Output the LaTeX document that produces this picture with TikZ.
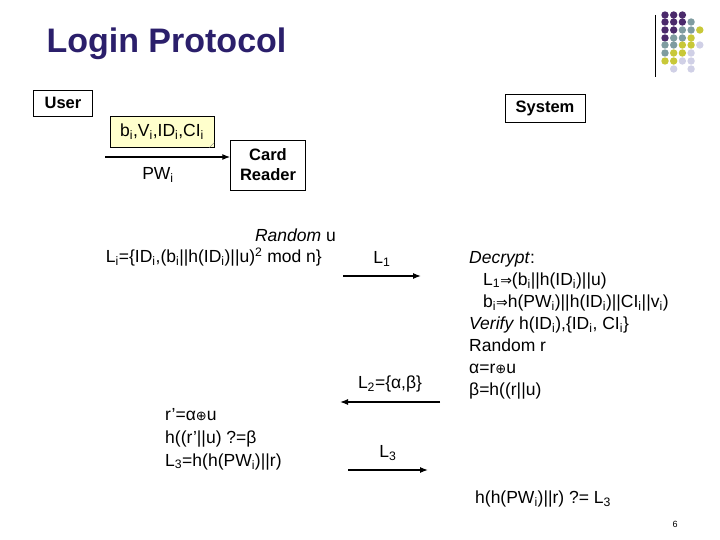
\documentclass[tikz,border=0pt]{standalone}
\usepackage{fontspec}
\setmainfont{Liberation Sans}
\newfontfamily\symf{DejaVu Sans}
\usetikzlibrary{arrows.meta}
\definecolor{titlec}{HTML}{2B1F6B}
\definecolor{notec}{HTML}{FFFFCC}
\definecolor{dpur}{HTML}{4B2A6B}
\definecolor{dteal}{HTML}{7F9CA0}
\definecolor{dyel}{HTML}{C8C838}
\definecolor{dlav}{HTML}{D0D0E6}
\newcommand{\dotrow}[3]{\foreach \c [count=\k from 0] in {#3} {\fill[\c] (#1+\k*8.7,#2) circle (3.7);}}
\newcommand{\imp}{{\symf\fontsize{14}{16}\selectfont ⇒}}
\newcommand{\xr}{{\symf\fontsize{13}{16}\selectfont ⊕}}
\newcommand{\sbi}{\textsubscript{i}}
\tikzset{
  txt/.style={font=\fontsize{17.5}{20}\selectfont, inner sep=0pt},
  box/.style={draw, txt, inner sep=3pt, align=center, font=\fontsize{16.5}{20}\selectfont\bfseries},
  msg/.style={-{Latex[length=8pt,width=6pt]}, line width=1.3pt}
}
\begin{document}
\begin{tikzpicture}[x=1pt,y=-1pt]
\useasboundingbox (0,0) rectangle (720,540);
% title and logo
\node[anchor=west, text=titlec, font=\fontsize{34}{38}\selectfont\bfseries] (title) at (43,44) {Login Protocol};
\draw[line width=1pt] (655,15) -- (655,77);
\dotrow{665}{15}{dpur,dpur,dpur}
\dotrow{665}{22}{dpur,dpur,dpur,dteal}
\dotrow{665}{30}{dpur,dpur,dteal,dteal,dyel}
\dotrow{665}{38}{dpur,dteal,dteal,dyel}
\dotrow{665}{45}{dteal,dteal,dyel,dyel,dlav}
\dotrow{665}{53}{dteal,dyel,dyel,dlav}
\dotrow{665}{61}{dyel,dyel,dlav,dlav}
\dotrow{673.7}{69}{dlav,white,dlav}
% parties
\node[box, minimum width=59, minimum height=26] (user) at (63,103) {User};
\node[box, minimum width=80, minimum height=28] (sys) at (545,108) {System};
\node[box, minimum width=75, minimum height=50] (card) at (268,165) {Card\\Reader};
\node[draw, fill=notec, txt, inner sep=0pt, minimum width=104, minimum height=31] (note) at (162,132)
  {b\sbi,V\sbi,ID\sbi,CI\sbi};
\draw[gray] (note.south east) ++(-5,0) -- ++(5,-5);
\coordinate (pwa) at (105,157);
\draw[msg] (pwa) -- (card.west|-pwa);
\node[txt] (pw) at (158,175) {PW\sbi};
% card reader side
\node[txt, anchor=east] (rndu) at (336,235) {\textit{Random} u};
\node[txt, anchor=east] (li) at (322,257) {L\sbi=\{ID\sbi,(b\sbi||h(ID\sbi)||u)\textsuperscript{2} mod n\}};
\node[txt, anchor=north west, align=left] (chk) at (165,408) {r'=α\xr u\\[3pt]h((r'||u) ?=β\\[3pt]L\textsubscript{3}=h(h(PW\sbi)||r)};
% messages
\coordinate (m1a) at (343,276); \coordinate (m1b) at (421,276);
\draw[msg] (m1a) -- node[txt, above=9pt] (l1) {L\textsubscript{1}} (m1b);
\coordinate (m2a) at (440,402); \coordinate (m2b) at (340,402);
\draw[msg] (m2a) -- node[txt, above=9pt] (l2) {L\textsubscript{2}=\{α,β\}} (m2b);
\coordinate (m3a) at (348,470); \coordinate (m3b) at (428,470);
\draw[msg] (m3a) -- node[txt, above=9pt] (l3) {L\textsubscript{3}} (m3b);
% server side
\node[txt, anchor=north west, align=left] (srv) at (469,251) {\textit{Decrypt}:\\[2pt]
\hspace*{14pt}L\textsubscript{1}\imp(b\sbi||h(ID\sbi)||u)\\[2pt]
\hspace*{14pt}b\sbi\imp h(PW\sbi)||h(ID\sbi)||CI\sbi||v\sbi)\\[2pt]
\textit{Verify} h(ID\sbi),\{ID\sbi, CI\sbi\}\\[2pt]
Random r\\[2pt]
α=r\xr u\\[2pt]
β=h((r||u)};
\node[txt, anchor=west] (fin) at (475,499) {h(h(PW\sbi)||r) ?= L\textsubscript{3}};
\node[font=\small] (pg) at (675,524) {6};
\end{tikzpicture}
\end{document}
